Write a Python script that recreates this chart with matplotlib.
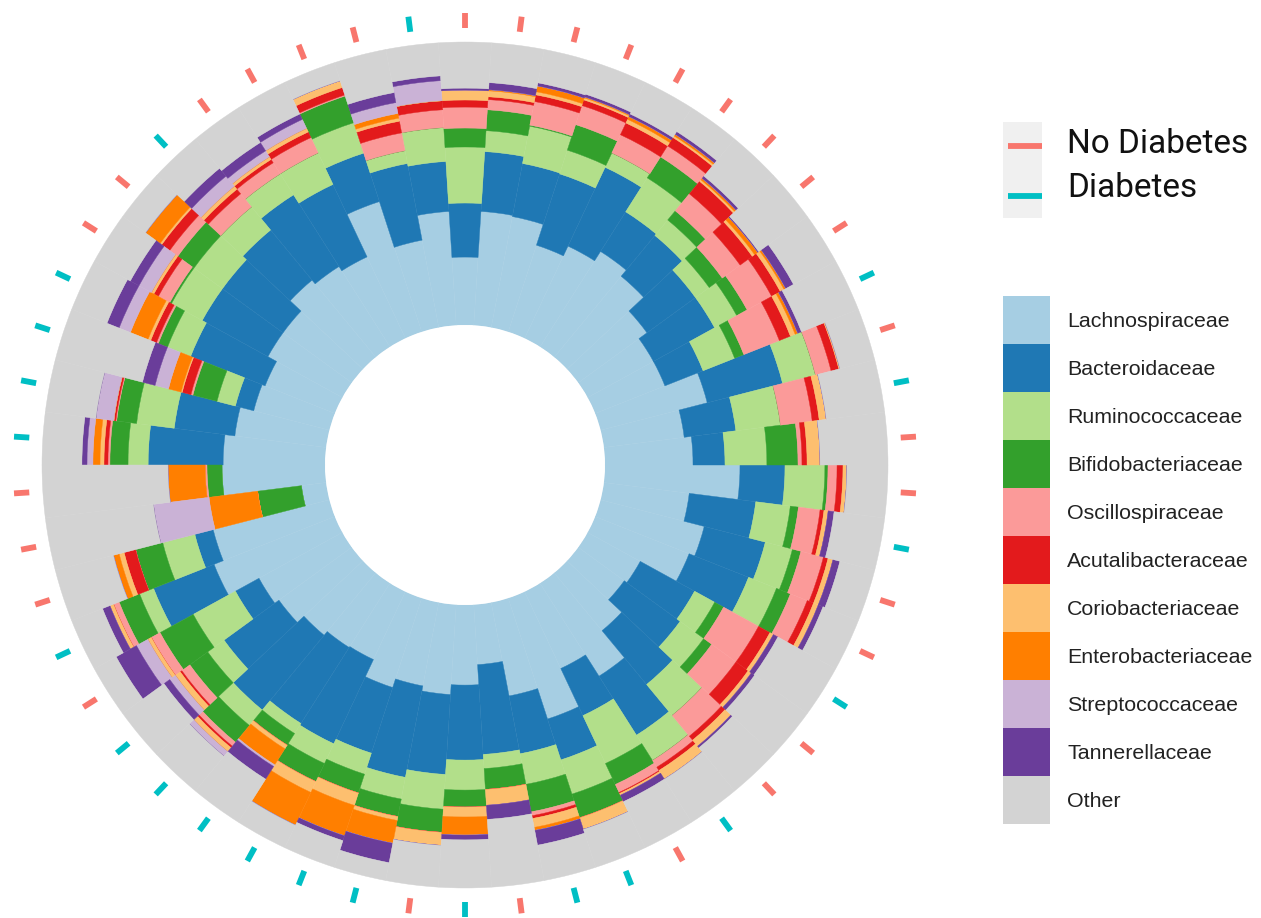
import numpy as np
import matplotlib
matplotlib.use("Agg")
import matplotlib.pyplot as plt
from matplotlib.patches import Rectangle

# ---------------- data (relative abundance, %), samples clockwise from 12 o'clock ----------------
taxa = ["Lachnospiraceae", "Bacteroidaceae", "Ruminococcaceae", "Bifidobacteriaceae",
        "Oscillospiraceae", "Acutalibacteraceae", "Coriobacteriaceae", "Enterobacteriaceae",
        "Streptococcaceae", "Tannerellaceae", "Other"]
taxa_colors = ["#a6cee3", "#1f78b4", "#b2df8a", "#33a02c", "#fb9a99", "#e31a1c",
               "#fdbf6f", "#ff7f00", "#cab2d6", "#6a3d9a", "#d3d3d3"]

lachnospiraceae = [24.0, 40.3, 39.9, 32.2, 36.0, 39.9, 37.1, 30.0, 26.5, 26.5,
                   38.9, 28.6, 31.1, 47.7, 30.4, 37.8, 35.7, 21.2, 20.1, 26.5,
                   38.9, 30.0, 44.9, 33.6, 21.2, 28.3, 31.8, 30.0, 33.2, 26.5,
                   26.9, 28.6, 31.8, 33.6, 45.9, 42.4, 8.8, 36.4, 36.0, 32.5,
                   27.6, 26.5, 30.0, 30.0, 35.3, 33.6, 31.8, 48.4, 31.4, 40.3]
bacteroidaceae = [19.1, 21.2, 19.1, 26.5, 30.8, 16.6, 18.7, 21.2, 24.7, 14.5,
                  27.5, 18.4, 11.3, 15.9, 23.7, 22.3, 22.6, 21.9, 24.4, 24.7,
                  24.7, 18.4, 15.2, 20.8, 31.8, 26.5, 28.3, 32.9, 24.4, 32.9,
                  31.8, 34.3, 24.0, 9.5, 23.0, 6.7, 0.0, 0.0, 26.5, 21.6,
                  6.7, 28.3, 26.5, 26.5, 23.0, 30.0, 28.3, 18.0, 27.6, 17.7]
ruminococcaceae = [19.8, 7.4, 13.4, 8.8, 5.6, 14.2, 7.1, 6.0, 8.9, 12.0,
                   12.0, 15.9, 14.8, 14.1, 12.3, 9.9, 10.6, 8.1, 10.3, 14.2,
                   10.6, 18.7, 12.7, 11.0, 5.0, 10.6, 12.3, 7.8, 7.8, 7.7,
                   4.2, 7.1, 7.1, 17.0, 5.3, 11.7, 0.0, 0.0, 7.1, 13.4,
                   6.7, 8.8, 12.4, 12.4, 10.6, 8.8, 12.3, 11.3, 4.6, 12.0]
bifidobacteriaceae = [6.7, 7.4, 0.4, 9.5, 0.0, 8.8, 4.2, 5.7, 4.2, 3.5,
                      0.0, 0.0, 11.0, 1.1, 2.9, 3.1, 5.3, 3.6, 3.5, 0.0,
                      0.0, 8.2, 8.8, 9.9, 7.4, 6.0, 8.2, 6.3, 7.0, 7.1,
                      4.9, 7.7, 7.8, 13.4, 7.8, 9.9, 15.6, 5.3, 6.4, 7.1,
                      8.8, 3.5, 0.7, 7.1, 0.0, 0.0, 0.0, 9.9, 0.0, 0.0]
oscillospiraceae = [7.4, 3.6, 8.5, 7.1, 7.1, 4.6, 7.8, 7.8, 9.9, 13.5,
                    5.7, 11.3, 1.4, 3.2, 7.7, 8.2, 6.4, 14.1, 10.6, 9.5,
                    2.8, 3.1, 0.0, 1.4, 0.0, 0.0, 0.0, 0.0, 0.0, 0.0,
                    0.0, 1.8, 3.5, 3.5, 2.1, 0.0, 0.0, 0.7, 0.7, 0.3,
                    0.7, 0.7, 4.6, 3.5, 6.0, 4.6, 6.0, 0.4, 6.4, 6.3]
acutalibacteraceae = [2.5, 1.0, 2.4, 2.1, 4.6, 3.5, 5.7, 5.3, 3.5, 4.2,
                      2.8, 2.5, 1.8, 2.1, 1.4, 1.7, 2.4, 4.6, 5.3, 1.8,
                      1.4, 0.4, 0.0, 1.0, 0.0, 0.0, 0.0, 0.0, 0.0, 0.0,
                      0.0, 0.7, 0.7, 0.0, 0.0, 4.2, 0.0, 0.0, 1.4, 0.7,
                      3.2, 2.2, 1.8, 3.5, 2.1, 1.4, 2.2, 2.8, 4.2, 3.2]
coriobacteriaceae = [3.5, 2.1, 1.1, 0.7, 1.4, 0.7, 0.7, 1.0, 1.5, 1.8,
                     0.4, 2.5, 4.6, 1.4, 1.5, 1.8, 1.8, 1.4, 1.4, 2.8,
                     3.6, 0.7, 4.3, 3.2, 5.6, 3.5, 4.6, 1.4, 4.6, 4.2,
                     1.5, 1.8, 2.1, 1.4, 1.4, 1.8, 0.0, 0.0, 1.4, 0.0,
                     0.4, 1.0, 1.0, 0.7, 1.4, 1.1, 1.4, 2.5, 1.1, 0.0]
enterobacteriaceae = [0.0, 0.4, 2.1, 0.4, 1.1, 0.7, 0.7, 1.4, 0.7, 1.0,
                      0.0, 0.0, 0.0, 0.0, 0.0, 0.0, 0.0, 0.0, 0.0, 0.0,
                      0.0, 0.0, 0.0, 1.1, 0.0, 6.4, 0.0, 8.2, 11.3, 12.8,
                      6.7, 0.0, 0.0, 0.0, 0.0, 2.1, 17.3, 13.1, 2.5, 0.0,
                      4.6, 6.7, 0.0, 6.4, 0.0, 0.0, 0.0, 0.0, 1.7, 0.0]
streptococcaceae = [0.0, 0.0, 0.0, 0.0, 0.0, 0.0, 0.0, 0.0, 0.0, 0.0,
                    0.0, 0.0, 0.0, 0.0, 0.0, 0.0, 0.0, 0.0, 0.0, 0.0,
                    0.0, 0.0, 0.0, 0.0, 0.0, 0.0, 0.0, 0.0, 0.0, 0.0,
                    0.7, 2.1, 2.5, 4.6, 0.0, 0.0, 19.8, 0.0, 2.1, 6.4,
                    4.9, 4.3, 5.0, 0.0, 4.6, 2.5, 3.5, 0.0, 3.9, 7.1]
tannerellaceae = [0.7, 2.5, 1.1, 1.0, 1.0, 1.1, 1.0, 0.4, 3.1, 1.4,
                  0.0, 0.0, 0.0, 0.0, 2.1, 2.5, 1.8, 1.8, 1.4, 0.7,
                  0.0, 2.5, 0.0, 5.3, 5.0, 1.7, 0.0, 7.0, 1.8, 0.0,
                  5.3, 0.0, 2.5, 8.2, 2.8, 0.0, 0.0, 0.0, 1.8, 0.0,
                  4.6, 4.6, 3.5, 0.0, 3.6, 3.5, 2.1, 0.0, 3.6, 1.7]

N, D = "No Diabetes", "Diabetes"
status = [N, N, N, N, N, N, N, N, N, D,
          N, D, N, N, D, N, N, D, N, N,
          D, N, D, D, N, D, N, D, D, D,
          D, D, D, N, D, N, N, N, D, D,
          D, D, N, N, D, N, N, N, N, D]
status_colors = {N: "#f8766d", D: "#00bfc4"}

series = [lachnospiraceae, bacteroidaceae, ruminococcaceae, bifidobacteriaceae,
          oscillospiraceae, acutalibacteraceae, coriobacteriaceae, enterobacteriaceae,
          streptococcaceae, tannerellaceae]

# ---------------- figure ----------------
W, H = 1261, 918
fig = plt.figure(figsize=(W / 100, H / 100), dpi=100)
fig.patch.set_facecolor("white")

cx, cy = 465, 465          # circle centre (pixels from top-left)
r_in, r_out = 140, 423     # hole radius and full-stack radius in pixels
r0 = r_in / (r_out - r_in)
vmax = 1.11
R_ax = (r_out - r_in) * (vmax + r0)
ax = fig.add_axes([(cx - R_ax) / W, (H - cy - R_ax) / H, 2 * R_ax / W, 2 * R_ax / H],
                  projection="polar")
ax.set_theta_zero_location("N")
ax.set_theta_direction(-1)
ax.set_ylim(0, vmax)
ax.set_rorigin(-r0)
ax.set_axis_off()

n = len(status)
theta = 2 * np.pi * np.arange(n) / n
width = 2 * np.pi / n
bottom = np.zeros(n)
for vals, col in zip(series, taxa_colors[:-1]):
    h = np.asarray(vals) / 100.0
    ax.bar(theta, h, width=width, bottom=bottom, color=col, edgecolor=col,
           linewidth=0.3, align="center")
    bottom = bottom + h
ax.bar(theta, 1 - bottom, width=width, bottom=bottom, color=taxa_colors[-1],
       edgecolor=taxa_colors[-1], linewidth=0.3, align="center")

ax.vlines(theta, 1.048, 1.102, colors=[status_colors[s] for s in status], linewidth=4.2)

# ---------------- legends ----------------
lax = fig.add_axes([0, 0, 1, 1])
lax.set_xlim(0, W)
lax.set_ylim(H, 0)
lax.axis("off")

lax.add_patch(Rectangle((1003, 122), 39, 96, facecolor="#f0f0f0", edgecolor="none"))
for yl, yb, lab in [(145.5, 153, N), (195.5, 197, D)]:
    lax.plot([1008, 1042], [yl, yl], color=status_colors[lab], lw=4.2, solid_capstyle="butt")
    lax.text(1067, yb, lab, fontsize=24, family=["Roboto", "DejaVu Sans"],
             va="baseline", ha="left", color="#111111")

box_top, box_h = 296, 48
for i, (name, col) in enumerate(zip(taxa, taxa_colors)):
    lax.add_patch(Rectangle((1003, box_top + box_h * i), 47, box_h,
                            facecolor=col, edgecolor="none"))
    lax.text(1067, box_top + box_h * i + box_h / 2 + 7, name, fontsize=15.4,
             family=["Liberation Sans", "DejaVu Sans"], va="baseline", ha="left",
             color="#222222")

fig.savefig("out.png", dpi=100, facecolor="white")
